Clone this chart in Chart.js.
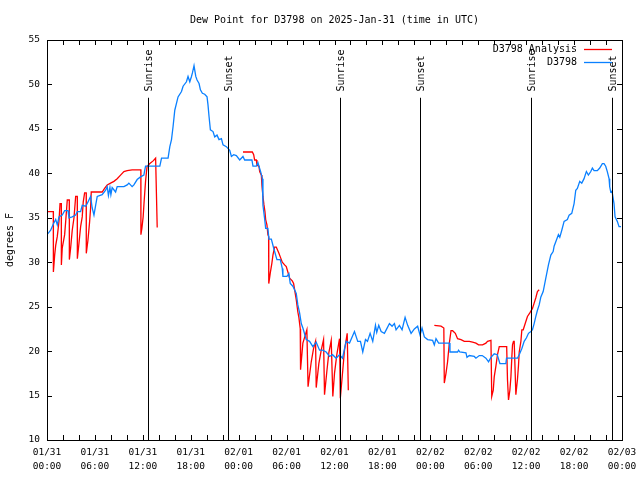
<!DOCTYPE html>
<html>
<head>
<meta charset="utf-8">
<title>Dew Point for D3798</title>
<script src="https://cdn.jsdelivr.net/npm/chart.js@4.4.1/dist/chart.umd.min.js"></script>
<style>
  html, body { margin: 0; padding: 0; background: #fff; }
</style>
</head>
<body>
<canvas id="dewChart" width="640" height="480"></canvas>
<script>
// hours since 01/31 00:00 UTC
var obsHours = [0, 0.46, 0.79, 1.09, 1.29, 1.5, 1.91, 2.21, 2.63, 2.75, 3.16, 3.59, 3.79, 4.21, 4.41, 4.84, 5.04, 5.46, 5.66, 5.88,
  6.09, 6.29, 6.91, 7.34, 7.54, 7.69, 7.88, 8.0, 8.16, 8.59, 8.79, 9.63, 10.04, 10.25, 10.66, 10.88, 11.29, 11.71, 12.13, 12.25,
  12.34, 14.13, 14.34, 15.16, 15.38, 15.59, 15.79, 16.0, 16.41, 16.84, 17.04, 17.46, 17.66, 17.88, 18.09, 18.21, 18.41, 18.63, 18.79, 19.04,
  19.21, 19.46, 19.75, 20.04, 20.16, 20.29, 20.46, 20.79, 21.0, 21.29, 21.54, 21.84, 22.04, 22.46, 22.88, 23.09, 23.38, 23.71, 24.13, 24.54,
  24.75, 25.66, 25.79, 26.21, 26.41, 26.54, 26.75, 26.96, 27.04, 27.25, 27.38, 27.66, 27.79, 28.09, 28.38, 28.79, 29.21, 29.46, 29.54, 30.04,
  30.29, 30.46, 30.79, 31.21, 31.41, 31.63, 31.84, 32.04, 32.46, 32.88, 33.29, 33.71, 34.13, 34.5, 34.96, 35.38, 35.75, 36.21, 36.63, 37.0,
  37.46, 37.88, 38.5, 38.91, 39.25, 39.54, 39.88, 40.13, 40.46, 40.79, 41.13, 41.29, 41.54, 41.84, 42.25, 42.54, 42.88, 43.21, 43.5, 43.71,
  44.13, 44.46, 44.84, 45.16, 45.59, 46.0, 46.41, 46.71, 46.96, 47.25, 47.66, 48.29, 48.5, 48.71, 49.04, 49.75, 50.38, 50.46, 51.41, 51.54,
  51.69, 52.46, 52.59, 52.88, 53.5, 53.71, 54.13, 54.5, 54.96, 55.29, 55.59, 56.0, 56.38, 56.71, 57.46, 57.54, 58.91, 59.13, 59.46, 59.75,
  60.04, 60.29, 60.59, 60.79, 61.0, 61.21, 61.41, 61.63, 61.84, 62.13, 62.46, 62.79, 63.09, 63.38, 63.5, 63.79, 64.04, 64.21, 64.46, 64.75,
  65.16, 65.38, 65.71, 66.0, 66.21, 66.41, 66.71, 66.96, 67.25, 67.46, 67.54, 67.79, 68.09, 68.29, 68.5, 68.91, 69.21, 69.54, 69.75, 69.96,
  70.16, 70.38, 70.46, 70.59, 70.75, 71.0, 71.13, 71.41, 71.63, 71.88];
var obsDew = [33.1, 33.6, 34.3, 34.8, 34.2, 35.1, 35.3, 35.8, 35.8, 35.0, 35.1, 35.3, 35.7, 35.7, 36.4, 36.3, 36.6, 37.4, 36.1, 35.3,
  36.4, 37.4, 37.6, 38.1, 38.5, 37.5, 38.4, 37.6, 38.4, 37.9, 38.5, 38.5, 38.7, 38.9, 38.5, 38.7, 39.3, 39.6, 39.8, 40.4,
  40.8, 40.8, 41.7, 41.7, 43.0, 43.8, 45.3, 47.1, 48.6, 49.2, 49.8, 50.3, 50.9, 50.3, 50.9, 51.3, 52.1, 50.9, 50.5, 50.1,
  49.4, 49.0, 48.9, 48.6, 47.7, 46.4, 44.9, 44.7, 44.1, 44.3, 43.8, 43.9, 43.2, 43.0, 42.6, 41.9, 42.1, 42.0, 41.5, 41.9,
  41.5, 41.5, 40.8, 40.8, 41.2, 40.8, 40.2, 39.4, 36.4, 34.9, 33.8, 33.8, 32.6, 32.6, 31.6, 30.3, 30.3, 29.3, 28.4, 28.4,
  28.7, 27.6, 27.3, 26.5, 25.2, 24.3, 23.1, 22.6, 21.3, 21.1, 20.5, 21.0, 20.1, 20.1, 19.9, 19.4, 19.6, 19.2, 19.6, 19.2,
  21.1, 20.9, 22.2, 21.1, 21.1, 19.9, 21.3, 21.1, 22.0, 21.1, 22.9, 22.1, 22.9, 22.2, 22.0, 22.5, 23.1, 22.8, 23.1, 22.4,
  22.9, 22.4, 23.8, 22.9, 22.0, 22.5, 22.8, 21.8, 22.6, 21.6, 21.3, 21.2, 20.7, 21.4, 20.9, 20.9, 20.9, 19.9, 19.9, 20.1,
  19.9, 19.8, 19.3, 19.5, 19.4, 19.2, 19.5, 19.5, 19.2, 18.8, 19.3, 19.7, 19.6, 18.6, 18.6, 19.2, 19.2, 19.6, 20.3, 21.1,
  21.5, 22.0, 22.2, 22.4, 23.1, 23.9, 24.6, 25.2, 26.1, 26.7, 28.2, 29.7, 30.8, 31.2, 31.8, 32.5, 33.1, 32.8, 33.6, 34.6,
  34.8, 35.3, 35.5, 36.6, 38.1, 38.3, 39.1, 38.9, 39.4, 40.0, 40.2, 39.8, 40.2, 40.6, 40.3, 40.3, 40.6, 41.1, 41.1, 40.8,
  40.2, 39.4, 38.5, 37.9, 38.0, 36.6, 35.1, 34.6, 34.0, 34.0];

var anaHours = [0, 0.79, 0.8, 0.96, 1.09, 1.29, 1.5, 1.63, 1.79, 1.8, 1.91, 2.21, 2.34, 2.54, 2.79, 2.8, 2.96, 3.16, 3.38, 3.59,
  3.79, 3.8, 4.0, 4.21, 4.41, 4.54, 4.71, 4.91, 4.92, 5.13, 5.34, 5.46, 5.54, 6.91, 7.21, 7.54, 7.96, 8.38, 8.79, 9.21,
  9.63, 10.04, 10.66, 11.75, 11.76, 11.88, 12.04, 12.16, 12.34, 12.46, 12.54, 12.88, 13.29, 13.6, 13.8, 14,
  24.54, 25.71, 25.88, 26.0, 26.21, 26.29, 26.54, 26.63, 26.84, 26.91, 27.04, 27.16, 27.29, 27.38, 27.54, 27.66, 27.75, 27.77, 27.96, 28.16,
  28.29, 28.5, 28.71, 29.04, 29.21, 29.46, 29.75, 29.96, 30.16, 30.38, 30.71, 30.88, 31.21, 31.41, 31.54, 31.71, 31.75, 32.04, 32.54, 32.69,
  33.09, 33.38, 33.63, 33.71, 34.04, 34.34, 34.63, 34.75, 35.04, 35.29, 35.59, 35.79, 36.0, 36.29, 36.63, 36.73, 37.04, 37.25, 37.59, 37.73, 38,
  48.5, 49.34, 49.69, 49.75, 49.96, 50.16, 50.38, 50.59, 50.79, 51.13, 51.41, 51.84, 52.25, 52.88, 53.29, 53.71, 54.04, 54.54, 54.96, 55.16,
  55.59, 55.69, 55.88, 56.0, 56.21, 56.41, 56.63, 57.56, 57.66, 57.79, 57.96, 58.09, 58.21, 58.29, 58.41, 58.5, 58.71, 58.91, 59.04, 59.13,
  59.34, 59.46, 59.63, 59.88, 60.16, 60.46, 60.79, 61.0, 61.21, 61.41, 61.63];
var anaDew = [35.7, 35.7, 28.9, 30.8, 31.9, 32.9, 34.6, 36.6, 36.6, 29.7, 31.6, 33.1, 34.6, 37.0, 37.0, 30.3, 31.6, 33.6, 35.0, 37.4,
  37.4, 30.4, 32.1, 34.0, 35.1, 36.8, 37.8, 37.8, 31.0, 32.5, 34.6, 36.1, 37.9, 37.9, 38.3, 38.7, 38.9, 39.1, 39.4, 39.8,
  40.2, 40.3, 40.4, 40.4, 33.1, 33.8, 35.1, 36.8, 39.1, 40.2, 40.8, 41.1, 41.4, 41.7, 33.9, null,
  42.4, 42.4, 42.1, 41.5, 41.5, 40.9, 40.8, 40.2, 39.8, 38.7, 37.4, 36.5, 35.7, 34.8, 34.2, 33.1, 32.9, 27.6, 28.8, 29.9,
  30.8, 31.7, 31.7, 31.0, 30.6, 30.0, 29.7, 29.5, 28.9, 28.2, 27.9, 27.6, 25.8, 24.4, 23.8, 22.5, 17.9, 20.9, 22.4, 16.0,
  18.8, 20.3, 21.1, 15.9, 18.6, 20.1, 21.3, 15.1, 17.7, 19.8, 21.2, 14.9, 17.5, 19.6, 21.4, 14.7, 17.9, 20.1, 22.0, 15.6, null,
  22.9, 22.8, 22.6, 16.4, 17.5, 18.8, 20.9, 22.3, 22.3, 22.0, 21.4, 21.3, 21.1, 21.1, 21.0, 20.9, 20.7, 20.7, 20.9, 21.1,
  21.2, 14.9, 15.6, 17.1, 18.3, 19.6, 20.5, 20.5, 16.8, 14.5, 15.6, 17.1, 19.4, 20.7, 21.1, 21.1, 15.1, 16.8, 18.4, 19.9,
  21.1, 22.4, 22.4, 23.1, 23.9, 24.3, 24.8, 25.4, 26.0, 26.7, 26.9];

var tickHours = [0, 6, 12, 18, 24, 30, 36, 42, 48, 54, 60, 66, 72];
var tickLabels = [["01/31", "00:00"], ["01/31", "06:00"], ["01/31", "12:00"], ["01/31", "18:00"],
  ["02/01", "00:00"], ["02/01", "06:00"], ["02/01", "12:00"], ["02/01", "18:00"],
  ["02/02", "00:00"], ["02/02", "06:00"], ["02/02", "12:00"], ["02/02", "18:00"], ["02/03", "00:00"]];

var sunHours = [12.65, 22.66, 36.69, 46.71, 60.61, 70.75];
var sunLabels = ["Sunrise", "Sunset", "Sunrise", "Sunset", "Sunrise", "Sunset"];

var mono = '"DejaVu Sans Mono", "Liberation Mono", monospace';

function pairs(xs, ys) {
  var out = [];
  for (var i = 0; i < xs.length; i++) out.push({x: xs[i], y: ys[i]});
  return out;
}

// gnuplot-like frame: inward ticks on all sides, sun lines, legend at top right
var framePlugin = {
  id: 'frame',
  afterDatasetsDraw: function(chart) {
    var ctx = chart.ctx, a = chart.chartArea;
    var xs = chart.scales.x, ys = chart.scales.y;
    ctx.save();
    ctx.strokeStyle = '#000';
    ctx.lineWidth = 1;

    // sunrise / sunset
    ctx.font = '10px ' + mono;
    ctx.fillStyle = '#000';
    for (var i = 0; i < sunHours.length; i++) {
      var px = Math.round(xs.getPixelForValue(sunHours[i])) + 0.5;
      ctx.beginPath();
      ctx.moveTo(px, ys.getPixelForValue(48.5));
      ctx.lineTo(px, a.bottom);
      ctx.stroke();
      ctx.save();
      ctx.translate(px + 1, ys.getPixelForValue(49.2));
      ctx.rotate(-Math.PI / 2);
      ctx.textAlign = 'left';
      ctx.textBaseline = 'middle';
      ctx.fillText(sunLabels[i], 0, 0);
      ctx.restore();
    }

    // ticks
    ctx.beginPath();
    xs.ticks.forEach(function(t) {
      var px = Math.round(xs.getPixelForValue(t.value)) + 0.5;
      ctx.moveTo(px, a.bottom); ctx.lineTo(px, a.bottom - 5);
      ctx.moveTo(px, a.top); ctx.lineTo(px, a.top + 5);
    });
    ys.ticks.forEach(function(t) {
      var py = Math.round(ys.getPixelForValue(t.value)) + 0.5;
      ctx.moveTo(a.left, py); ctx.lineTo(a.left + 5, py);
      ctx.moveTo(a.right, py); ctx.lineTo(a.right - 5, py);
    });
    ctx.stroke();

    // border
    ctx.strokeRect(Math.round(a.left) + 0.5, Math.round(a.top) + 0.5,
      Math.round(a.right - a.left), Math.round(a.bottom - a.top));

    // legend
    ctx.font = '10px ' + mono;
    ctx.textAlign = 'right';
    ctx.textBaseline = 'middle';
    chart.data.datasets.forEach(function(ds, k) {
      var ly = Math.round(a.top + 9 + k * 13) + 0.5;
      ctx.fillStyle = '#000';
      ctx.fillText(ds.label, a.right - 45, ly);
      ctx.strokeStyle = ds.borderColor;
      ctx.lineWidth = 1.3;
      ctx.beginPath();
      ctx.moveTo(a.right - 38, ly);
      ctx.lineTo(a.right - 10, ly);
      ctx.stroke();
    });
    ctx.restore();
  }
};

Chart.defaults.color = '#000';
Chart.defaults.font.family = mono;

new Chart(document.getElementById('dewChart'), {
  type: 'line',
  data: {
    datasets: [
      {
        label: 'D3798 Analysis',
        data: pairs(anaHours, anaDew),
        borderColor: '#ff0000',
        borderWidth: 1.3,
        pointRadius: 0,
        spanGaps: false,
        fill: false,
        order: 1
      },
      {
        label: 'D3798',
        data: pairs(obsHours, obsDew),
        borderColor: '#0a80ff',
        borderWidth: 1.3,
        pointRadius: 0,
        fill: false,
        order: 0
      }
    ]
  },
  options: {
    responsive: false,
    animation: false,
    layout: { padding: { left: 0, right: 18, top: 0, bottom: 0 } },
    plugins: {
      legend: { display: false },
      tooltip: { enabled: false },
      title: {
        display: true,
        fullSize: false,
        text: 'Dew Point for D3798 on 2025-Jan-31 (time in UTC)',
        color: '#000',
        font: { family: mono, size: 10, weight: 'normal' },
        padding: { top: 14, bottom: 14 }
      }
    },
    scales: {
      x: {
        type: 'linear',
        min: 0,
        max: 72,
        grid: { display: false, drawTicks: false },
        border: { display: false },
        ticks: {
          stepSize: 2,
          autoSkip: false,
          maxRotation: 0,
          padding: 6,
          font: { family: mono, size: 9.5, lineHeight: '13.5px' },
          callback: function(v) {
            var i = tickHours.indexOf(v);
            return i < 0 ? '' : tickLabels[i];
          }
        },
        afterFit: function(s) {
          s.height = 40;
          s.paddingLeft = 0;
          s.paddingRight = 0;
        }
      },
      y: {
        min: 10,
        max: 55,
        grid: { display: false, drawTicks: false },
        border: { display: false },
        ticks: { stepSize: 5, padding: 7, font: { family: mono, size: 9.5 } },
        title: {
          display: true,
          text: 'degrees F',
          font: { family: mono, size: 10 },
          padding: { top: 4, bottom: 0 }
        },
        afterFit: function(s) { s.width = 47; }
      }
    }
  },
  plugins: [framePlugin]
});
</script>
</body>
</html>
